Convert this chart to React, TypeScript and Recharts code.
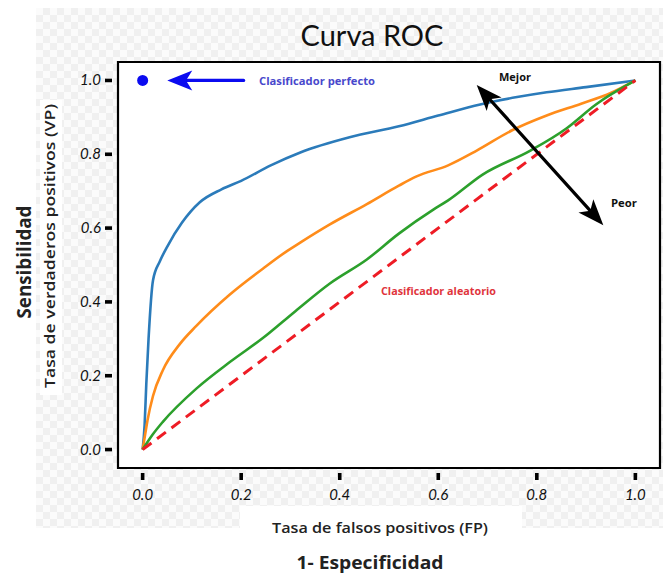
import React from "react";
import {
  LineChart,
  Line,
  XAxis,
  YAxis,
  ReferenceArea,
  ReferenceDot,
  ReferenceLine,
} from "recharts";

// Curvas ROC (FP, VP).
const blueFp = [0, 0.004, 0.0075, 0.012, 0.021, 0.035, 0.05, 0.08, 0.116, 0.16, 0.2, 0.26, 0.32, 0.42, 0.52, 0.6, 0.685, 0.76, 0.82, 0.9, 1.0];
const blueVp = [0, 0.066, 0.18, 0.3, 0.458, 0.51, 0.55, 0.615, 0.67, 0.705, 0.728, 0.77, 0.805, 0.846, 0.876, 0.905, 0.935, 0.955, 0.968, 0.982, 1.0];

const orangeFp = [0, 0.005, 0.01, 0.021, 0.041, 0.075, 0.109, 0.177, 0.244, 0.29, 0.319, 0.38, 0.455, 0.52, 0.556, 0.62, 0.678, 0.75, 0.82, 0.89, 0.95, 1.0];
const orangeVp = [0, 0.04, 0.08, 0.145, 0.215, 0.285, 0.335, 0.42, 0.49, 0.535, 0.56, 0.61, 0.665, 0.715, 0.74, 0.77, 0.81, 0.865, 0.905, 0.937, 0.966, 1.0];

const greenFp = [0, 0.02, 0.041, 0.109, 0.177, 0.244, 0.31, 0.38, 0.455, 0.52, 0.59, 0.62, 0.69, 0.787, 0.86, 0.92, 1.0];
const greenVp = [0, 0.04, 0.075, 0.165, 0.237, 0.302, 0.375, 0.45, 0.515, 0.585, 0.65, 0.675, 0.745, 0.81, 0.87, 0.935, 1.0];

const randomFp = [0, 1];
const randomVp = [0, 1];

const ticks = [0, 0.2, 0.4, 0.6, 0.8, 1.0];
const domain: [number, number] = [-0.05, 1.05];

const toRows = (xs: number[], ys: number[]) => xs.map((x, i) => ({ x, y: ys[i] }));

const blueRows = toRows(blueFp, blueVp);
const orangeRows = toRows(orangeFp, orangeVp);
const greenRows = toRows(greenFp, greenVp);
const randomRows = toRows(randomFp, randomVp);

const TICK_FONT = "Lato, 'Open Sans', sans-serif";
const LABEL_FONT = "'Open Sans', 'Noto Sans', sans-serif";

function YTick(props: any) {
  const { x, y, payload } = props;
  return (
    <g>
      <rect x={x - 13} y={y - 1.8} width={7} height={3.6} fill="#000" />
      <text
        x={x - 17}
        y={y + 5}
        textAnchor="end"
        fontFamily={TICK_FONT}
        fontStyle="italic"
        fontSize={15}
        fill="#111"
      >
        {payload.value.toFixed(1)}
      </text>
    </g>
  );
}

function XTick(props: any) {
  const { x, y, payload } = props;
  return (
    <g>
      <rect x={x - 1.8} y={y + 5} width={3.6} height={7} fill="#000" />
      <text
        x={x}
        y={y + 32}
        textAnchor="middle"
        fontFamily={TICK_FONT}
        fontStyle="italic"
        fontSize={15}
        fill="#111"
      >
        {payload.value.toFixed(1)}
      </text>
    </g>
  );
}

// arrow shape for ReferenceLine segments; head at the end, optionally at the start too
function arrowShape(color: string, headLen: number, headHalf: number, both: boolean) {
  return (props: any) => {
    const { x1, y1, x2, y2 } = props;
    const dx = x2 - x1;
    const dy = y2 - y1;
    const len = Math.sqrt(dx * dx + dy * dy) || 1;
    const ux = dx / len;
    const uy = dy / len;
    const head = (tx: number, ty: number, dirx: number, diry: number) => {
      const bx = tx - dirx * headLen;
      const by = ty - diry * headLen;
      const px = -diry * headHalf;
      const py = dirx * headHalf;
      return `${tx},${ty} ${bx + px},${by + py} ${bx + dirx * headLen * 0.25},${by + diry * headLen * 0.25} ${bx - px},${by - py}`;
    };
    const sx = both ? x1 + ux * headLen * 0.6 : x1;
    const sy = both ? y1 + uy * headLen * 0.6 : y1;
    const ex = x2 - ux * headLen * 0.6;
    const ey = y2 - uy * headLen * 0.6;
    return (
      <g>
        <line x1={sx} y1={sy} x2={ex} y2={ey} stroke={color} strokeWidth={3.2} strokeLinecap="round" />
        <polygon points={head(x2, y2, ux, uy)} fill={color} />
        {both && <polygon points={head(x1, y1, -ux, -uy)} fill={color} />}
      </g>
    );
  };
}

export default function App() {
  return (
    <div style={{ position: "absolute", left: 0, top: 0, width: 663, height: 576, background: "#fff", overflow: "hidden" }}>
      <div
        style={{
          position: "absolute",
          left: 36,
          top: 8,
          width: 627,
          height: 520,
          background: "repeating-conic-gradient(#f0f0f0 0 25%, #fbfbfb 0 50%) 0 0 / 14px 14px",
        }}
      />
      <div style={{ position: "absolute", left: 240, top: 506, width: 282, height: 22, background: "#fff" }} />
      <div style={{ position: "absolute", left: 40, top: 100, width: 22, height: 295, background: "#fff" }} />

      <div style={{ position: "absolute", left: 0, top: 0 }}>
        <LineChart width={663} height={576} margin={{ top: 62, right: 3, bottom: 68, left: 78 }}>
          <XAxis
            type="number"
            dataKey="x"
            domain={domain}
            ticks={ticks}
            allowDataOverflow
            axisLine={false}
            tickLine={false}
            tickSize={0}
            tickMargin={0}
            height={40}
            tick={<XTick />}
          />
          <YAxis
            type="number"
            dataKey="y"
            domain={domain}
            ticks={ticks}
            allowDataOverflow
            axisLine={false}
            tickLine={false}
            tickSize={0}
            tickMargin={0}
            width={40}
            tick={<YTick />}
          />
          <ReferenceArea
            x1={-0.05}
            x2={1.05}
            y1={-0.05}
            y2={1.05}
            fill="#fff"
            fillOpacity={1}
            stroke="#000"
            strokeWidth={2.2}
          />
          <Line data={blueRows} dataKey="y" type="monotone" stroke="#2b7bba" strokeWidth={2.6} dot={false} isAnimationActive={false} />
          <Line data={orangeRows} dataKey="y" type="monotone" stroke="#ff8c1a" strokeWidth={2.6} dot={false} isAnimationActive={false} />
          <Line data={greenRows} dataKey="y" type="monotone" stroke="#2ca02c" strokeWidth={2.6} dot={false} isAnimationActive={false} />
          <Line data={randomRows} dataKey="y" type="linear" stroke="#ee1c25" strokeWidth={3} strokeDasharray="11 7" dot={false} isAnimationActive={false} />
          <ReferenceDot x={0} y={1} r={5.5} fill="#0b0bf0" stroke="none" />
          <ReferenceLine
            segment={[{ x: 0.205, y: 1.0 }, { x: 0.05, y: 1.0 }]}
            shape={arrowShape("#0b0bf0", 25, 10, false)}
          />
          <ReferenceLine
            segment={[{ x: 0.678, y: 0.988 }, { x: 0.935, y: 0.608 }]}
            shape={arrowShape("#000", 26, 10, true)}
          />
        </LineChart>
      </div>

      <svg width={663} height={576} style={{ position: "absolute", left: 0, top: 0, pointerEvents: "none" }}>
        <text x={372} y={46} textAnchor="middle" fontFamily={TICK_FONT} fontSize={28} fill="#111" textLength={143} lengthAdjust="spacingAndGlyphs">
          Curva ROC
        </text>
        <text x={259} y={85} fontFamily={LABEL_FONT} fontWeight={700} fontSize={11} fill="#4848cc" textLength={116} lengthAdjust="spacingAndGlyphs">
          Clasificador perfecto
        </text>
        <text x={499} y={81} fontFamily={LABEL_FONT} fontWeight={700} fontSize={11} fill="#111" textLength={32} lengthAdjust="spacingAndGlyphs">
          Mejor
        </text>
        <text x={611} y={207} fontFamily={LABEL_FONT} fontWeight={700} fontSize={11} fill="#111" textLength={26} lengthAdjust="spacingAndGlyphs">
          Peor
        </text>
        <text x={381} y={295} fontFamily={LABEL_FONT} fontWeight={700} fontSize={11} fill="#e0343c" textLength={115} lengthAdjust="spacingAndGlyphs">
          Clasificador aleatorio
        </text>
        <text x={380} y={533} textAnchor="middle" fontFamily={LABEL_FONT} fontWeight={600} fontSize={15} fill="#222" textLength={216} lengthAdjust="spacingAndGlyphs">
          Tasa de falsos positivos (FP)
        </text>
        <text x={370} y={569} textAnchor="middle" fontFamily={LABEL_FONT} fontWeight={700} fontSize={18} fill="#222" textLength={147} lengthAdjust="spacingAndGlyphs">
          1- Especificidad
        </text>
        <text
          transform="translate(31 262) rotate(-90)"
          textAnchor="middle"
          fontFamily={LABEL_FONT}
          fontWeight={700}
          fontSize={19}
          fill="#222"
          textLength={113}
          lengthAdjust="spacingAndGlyphs"
        >
          Sensibilidad
        </text>
        <text
          transform="translate(55 246) rotate(-90)"
          textAnchor="middle"
          fontFamily={LABEL_FONT}
          fontWeight={600}
          fontSize={15}
          fill="#222"
          textLength={284}
          lengthAdjust="spacingAndGlyphs"
        >
          Tasa de verdaderos positivos (VP)
        </text>
      </svg>
    </div>
  );
}
